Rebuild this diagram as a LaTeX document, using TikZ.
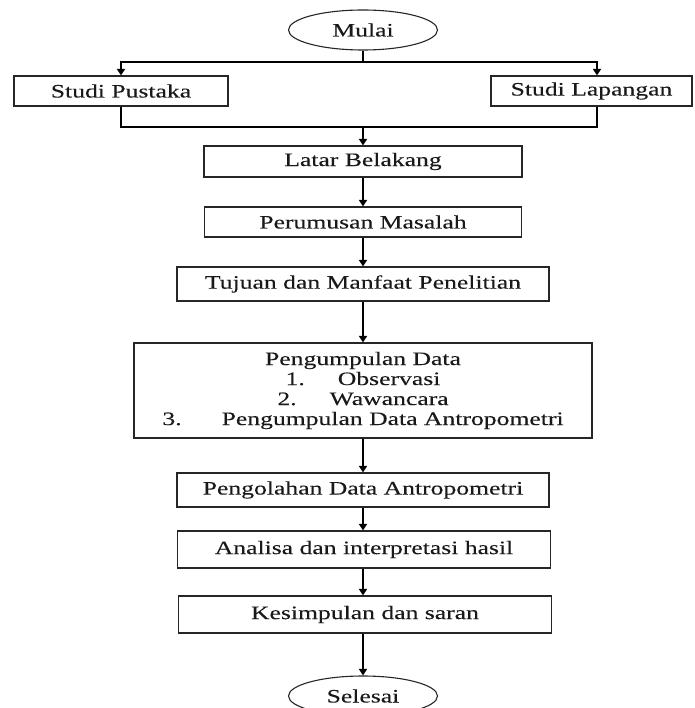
\documentclass[tikz,border=0pt]{standalone}
\usepackage{fontspec}
\setmainfont{Liberation Serif}[FakeStretch=1.35,FakeBold=0.15]
\usetikzlibrary{shapes.geometric,arrows.meta}
\begin{document}
\begin{tikzpicture}[x=1pt,y=-1pt,
  box/.style={draw=black!85,line width=1.2pt,rectangle,inner sep=0pt,text=black!90,
    font=\fontsize{19}{20}\selectfont},
  oval/.style={draw=black!85,line width=1.1pt,ellipse,inner sep=0pt,text=black!90,
    minimum width=149pt,minimum height=40pt,font=\fontsize{19}{20}\selectfont},
  conn/.style={line width=2pt,black},
  arr/.style={conn,-{Triangle[length=6.5pt,width=8pt]}}]
\clip (0,0) rectangle (694,708);
\fill[white] (0,0) rectangle (694,708);
\node[oval] (mulai) at (363,30) {Mulai};
\node[box,minimum width=214pt,minimum height=30pt] (sp) at (121,91) {Studi Pustaka};
\node[box,minimum width=201pt,minimum height=30pt] (sl) at (591.5,91) {Studi Lapangan};
\node[box,minimum width=318pt,minimum height=31pt] (lb) at (363,161.5) {Latar Belakang};
\node[box,minimum width=317pt,minimum height=30pt] (pm) at (363,222) {Perumusan Masalah};
\node[box,minimum width=372pt,minimum height=34pt] (tj) at (363,284) {Tujuan dan Manfaat Penelitian};
\node[box,minimum width=458pt,minimum height=95pt,align=center] (pd) at (363,390.5)
  {Pengumpulan Data\\1.\hspace{33pt}Observasi\\2.\hspace{33pt}Wawancara\\3.\hspace{40pt}Pengumpulan Data Antropometri};
\node[box,minimum width=372pt,minimum height=34pt] (po) at (363,490) {Pengolahan Data Antropometri};
\node[box,minimum width=373pt,minimum height=37pt] (an) at (364,549.5) {Analisa dan interpretasi hasil};
\node[box,minimum width=373pt,minimum height=37pt] (ks) at (365,614.5) {Kesimpulan dan saran};
\node[oval] (sel) at (363,696) {Selesai};
\coordinate (j1) at (363,62);
\coordinate (j2) at (363,127);
\draw[conn] (mulai.south) -- (j1);
\draw[arr] (j1) -| (sp.north);
\draw[arr] (j1) -| ([xshift=5.5pt]sl.north);
\draw[conn] (sp.south) |- (j2);
\draw[conn] ([xshift=5.5pt]sl.south) |- (j2);
\draw[arr] (j2) -- (lb.north);
\draw[arr] (lb.south) -- (pm.north);
\draw[arr] (pm.south) -- (tj.north);
\draw[arr] (tj.south) -- (pd.north);
\draw[arr] (pd.south) -- (po.north);
\draw[arr] (po.south) -- (po.south |- an.north);
\draw[arr] (po.south |- an.south) -- (po.south |- ks.north);
\draw[arr] (po.south |- ks.south) -- (po.south |- sel.north);
\end{tikzpicture}
\end{document}
